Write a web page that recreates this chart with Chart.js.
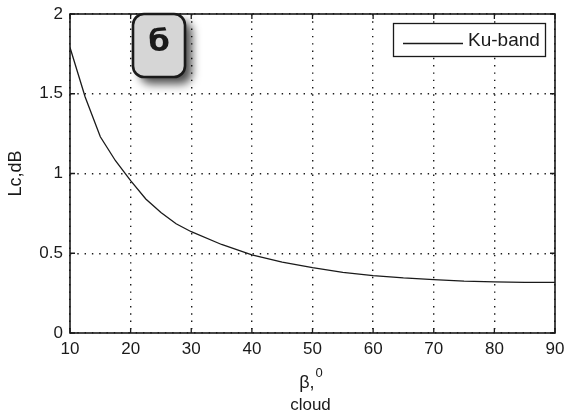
<!DOCTYPE html>
<html>
<head>
<meta charset="utf-8">
<script src="https://cdn.jsdelivr.net/npm/chart.js@4.4.1/dist/chart.umd.min.js"></script>
<style>
html,body{margin:0;padding:0;background:#fff;}
#wrap{position:relative;width:566px;height:412px;}
</style>
</head>
<body>
<div id="wrap"><canvas id="c" width="566" height="412"></canvas></div>
<script>
const betaDeg = [10, 12.5, 15, 17.5, 20, 22.5, 25, 27.5, 30, 35, 40, 45, 50, 55, 60, 65, 70, 75, 80, 85, 90];
const lossKu  = [1.79, 1.48, 1.23, 1.08, 0.955, 0.84, 0.755, 0.685, 0.635, 0.555, 0.49, 0.445, 0.41, 0.38, 0.36, 0.345, 0.335, 0.325, 0.32, 0.318, 0.318];
const xTicks = [10, 20, 30, 40, 50, 60, 70, 80, 90];
const yTicks = [0, 0.5, 1, 1.5, 2];
const seriesName = 'Ku-band';
const panelLabel = 'б';
const xTitleMain = 'β,';
const xTitleSup = '0';
const xSubTitle = 'cloud';
const yTitle = 'Lc,dB';

const FONT = "'Liberation Sans', Arial, sans-serif";
const INK = '#1a1a1a';

const framePlugin = {
  id: 'frame',
  afterDraw(chart) {
    const {ctx, chartArea: a, scales} = chart;
    ctx.save();
    // box
    ctx.strokeStyle = INK;
    ctx.lineWidth = 1.6;
    ctx.strokeRect(a.left, a.top, a.right - a.left, a.bottom - a.top);
    // inward ticks
    ctx.lineWidth = 1.3;
    ctx.beginPath();
    xTicks.forEach(v => {
      const x = scales.x.getPixelForValue(v);
      ctx.moveTo(x, a.bottom); ctx.lineTo(x, a.bottom - 5);
      ctx.moveTo(x, a.top); ctx.lineTo(x, a.top + 5);
    });
    yTicks.forEach(v => {
      const y = scales.y.getPixelForValue(v);
      ctx.moveTo(a.left, y); ctx.lineTo(a.left + 5, y);
      ctx.moveTo(a.right, y); ctx.lineTo(a.right - 5, y);
    });
    ctx.stroke();

    // legend
    const lx = 393, ly = 23, lw = 152, lh = 33;
    ctx.fillStyle = '#fff';
    ctx.fillRect(lx, ly, lw, lh);
    ctx.lineWidth = 1.3;
    ctx.strokeStyle = INK;
    ctx.strokeRect(lx + 0.5, ly + 0.5, lw, lh);
    ctx.lineWidth = 1.3;
    ctx.beginPath();
    ctx.moveTo(lx + 10, ly + 20.5);
    ctx.lineTo(lx + 70, ly + 20.5);
    ctx.stroke();
    ctx.fillStyle = INK;
    ctx.font = '19px ' + FONT;
    ctx.textAlign = 'left';
    ctx.textBaseline = 'middle';
    ctx.fillText(seriesName, lx + 75, ly + 18);

    // panel badge
    const bx = 133, by = 14, bw = 52, bh = 63, r = 11;
    ctx.save();
    ctx.shadowColor = 'rgba(0,0,0,0.7)';
    ctx.shadowBlur = 10;
    ctx.shadowOffsetX = 7;
    ctx.shadowOffsetY = 7;
    ctx.beginPath();
    ctx.roundRect(bx, by, bw, bh, r);
    ctx.fillStyle = '#d6d6d6';
    ctx.fill();
    ctx.restore();
    ctx.beginPath();
    ctx.roundRect(bx, by, bw, bh, r);
    ctx.lineWidth = 2.6;
    ctx.strokeStyle = INK;
    ctx.stroke();
    ctx.fillStyle = INK;
    ctx.font = "bold 31px 'DejaVu Sans', sans-serif";
    ctx.textAlign = 'center';
    ctx.textBaseline = 'middle';
    ctx.fillText(panelLabel, bx + bw / 2, by + 29);

    // x title
    const cx = (a.left + a.right) / 2;
    ctx.fillStyle = INK;
    ctx.textAlign = 'left';
    ctx.textBaseline = 'alphabetic';
    ctx.font = '18px ' + FONT;
    const wMain = ctx.measureText(xTitleMain).width;
    ctx.font = '13px ' + FONT;
    const wSup = ctx.measureText(xTitleSup).width;
    const startX = cx - (wMain + wSup) / 2 - 2;
    ctx.font = '18px ' + FONT;
    ctx.fillText(xTitleMain, startX, 388);
    ctx.font = '13px ' + FONT;
    ctx.fillText(xTitleSup, startX + wMain + 1, 377);
    ctx.font = '17px ' + FONT;
    ctx.textAlign = 'center';
    ctx.fillText(xSubTitle, cx - 2, 410);
    ctx.restore();
  }
};

new Chart(document.getElementById('c'), {
  type: 'line',
  data: {
    datasets: [{
      label: seriesName,
      data: betaDeg.map((b, i) => ({x: b, y: lossKu[i]})),
      borderColor: INK,
      backgroundColor: INK,
      borderWidth: 1.3,
      pointRadius: 0,
      tension: 0,
      fill: false
    }]
  },
  options: {
    responsive: false,
    animation: false,
    layout: {padding: {left: 0, top: 14, right: 11, bottom: 0}},
    plugins: {
      tooltip: {enabled: false},
      legend: {display: false}
    },
    scales: {
      x: {
        type: 'linear',
        min: 10, max: 90,
        afterBuildTicks: s => { s.ticks = xTicks.map(v => ({value: v})); },
        afterFit: s => { s.height = 79; s.paddingLeft = 0; s.paddingRight = 0; },
        grid: {color: INK, lineWidth: 1.4, drawTicks: false},
        border: {display: false, dash: [1.4, 5.9]},
        ticks: {color: INK, font: {family: FONT, size: 17}, padding: 6, maxRotation: 0, callback: v => String(v)},
        title: {display: false}
      },
      y: {
        min: 0, max: 2,
        afterBuildTicks: s => { s.ticks = yTicks.map(v => ({value: v})); },
        afterFit: s => { s.width = 70; s.paddingTop = 0; s.paddingBottom = 0; },
        grid: {color: INK, lineWidth: 1.4, drawTicks: false},
        border: {display: false, dash: [1.4, 5.9]},
        ticks: {color: INK, font: {family: FONT, size: 17}, padding: 7, callback: v => String(v)},
        title: {display: true, text: yTitle, color: INK, font: {family: FONT, size: 18}, padding: {top: 5, bottom: 0}}
      }
    }
  },
  plugins: [framePlugin]
});
</script>
</body>
</html>
